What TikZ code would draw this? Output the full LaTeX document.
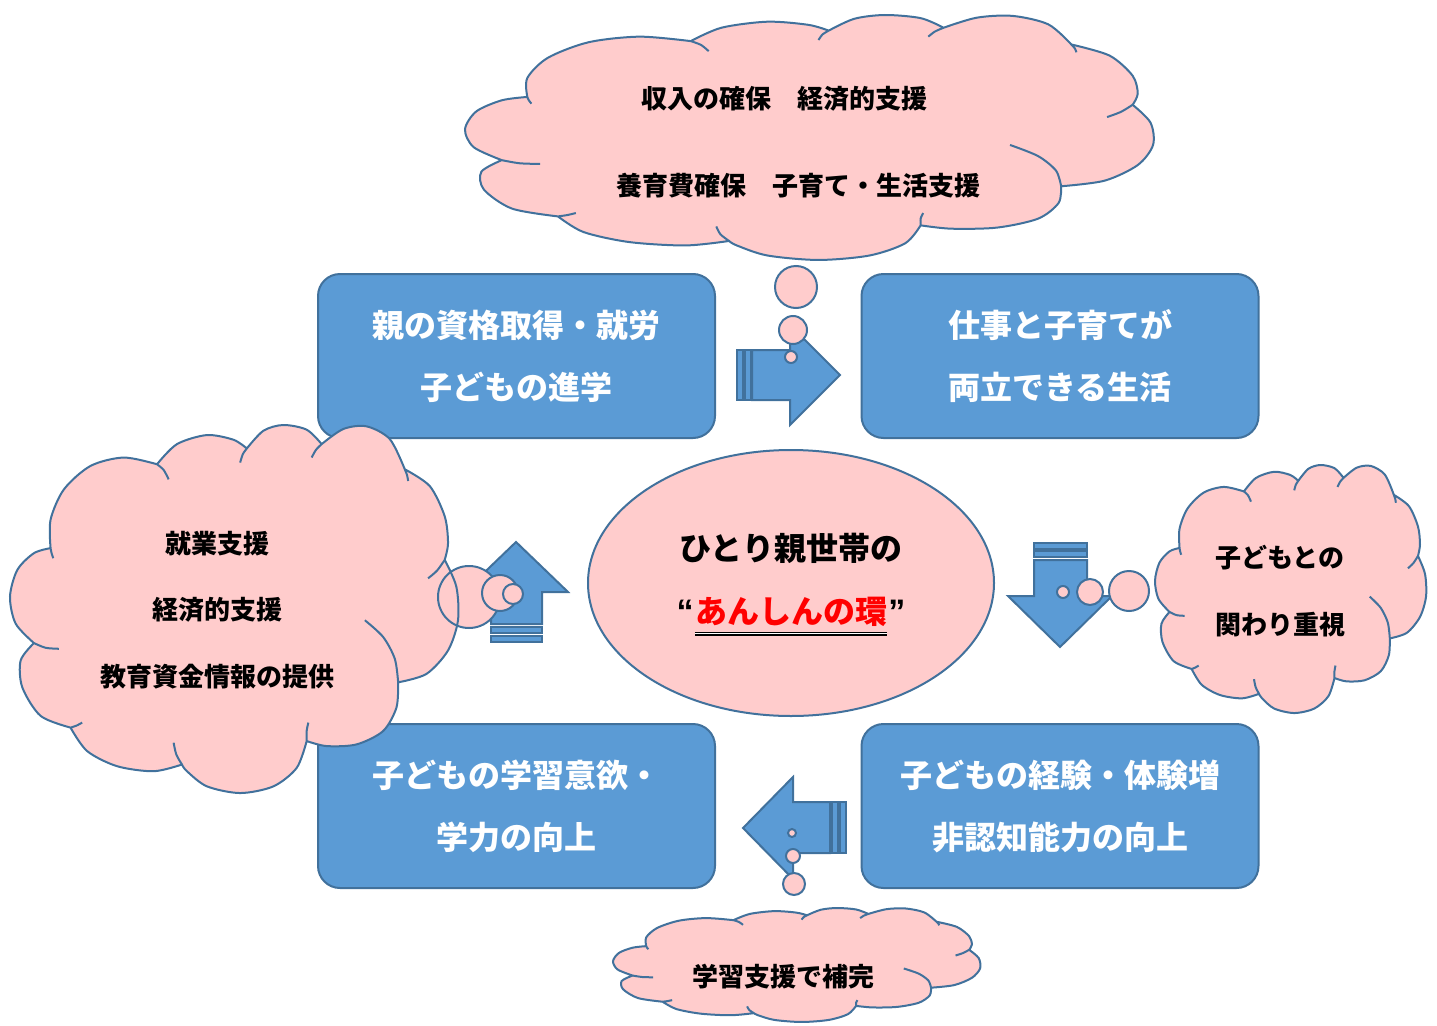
\documentclass[tikz,border=0pt]{standalone}
\usepackage{fontspec}
\setmainfont{Noto Sans CJK JP}
\newfontfamily\latinfont{Liberation Sans}
\usepackage{tikz}
\usetikzlibrary{positioning,shapes.geometric}
\definecolor{boxblue}{HTML}{5B9BD5}
\definecolor{edgeblue}{HTML}{41719C}
\definecolor{cloudpink}{HTML}{FFCCCC}
\definecolor{ringred}{HTML}{FF0000}

% outline of one cloud, traced in a 1347 x 1097 frame
\newcommand{\cloudrim}{%
  plot[smooth] coordinates {(150,385) (150,300) (190,210) (270,140) (370,115) (470,135)}
  -- plot[smooth] coordinates {(470,135) (530,75) (620,48) (700,62) (740,88)}
  -- plot[smooth] coordinates {(740,88) (790,35) (850,18) (920,32) (965,75)}
  -- plot[smooth] coordinates {(965,75) (1030,30) (1100,22) (1170,60) (1215,150)}
  -- plot[smooth] coordinates {(1215,150) (1290,200) (1335,290) (1345,370) (1335,420)}
  -- plot[smooth] coordinates {(1335,420) (1370,500) (1375,600) (1345,690) (1280,760) (1195,785)}
  -- plot[smooth] coordinates {(1195,785) (1190,860) (1150,930) (1070,970) (980,975) (920,960)}
  -- plot[smooth] coordinates {(920,960) (890,1040) (820,1095) (720,1115) (620,1095) (560,1050) (545,1030)}
  -- plot[smooth] coordinates {(545,1030) (460,1050) (350,1035) (260,990) (210,920)}
  -- plot[smooth] coordinates {(210,920) (120,885) (65,800) (60,720) (100,668)}
  -- plot[smooth] coordinates {(100,668) (45,610) (28,530) (50,450) (100,400) (150,385)}
  -- cycle}
% short inner arcs of the puffs
\newcommand{\cloudcreases}{%
  plot[smooth] coordinates {(150,385) (153,400) (158,415)}
  plot[smooth] coordinates {(470,135) (490,152) (505,180)}
  plot[smooth] coordinates {(740,88) (728,105) (720,130)}
  plot[smooth] coordinates {(965,75) (948,92) (935,115)}
  plot[smooth] coordinates {(1215,150) (1222,168) (1225,185)}
  plot[smooth] coordinates {(1335,420) (1312,452) (1285,475)}
  plot[smooth] coordinates {(1095,600) (1150,650) (1185,715) (1195,785)}
  plot[smooth] coordinates {(920,960) (920,930) (925,905)}
  plot[smooth] coordinates {(545,1030) (528,1000) (520,965)}
  plot[smooth] coordinates {(210,920) (228,914) (245,905)}
  plot[smooth] coordinates {(100,668) (135,682) (175,685)}}

\begin{document}
\begin{tikzpicture}[
  x=1pt, y=-1pt,
  stepbox/.style={draw=edgeblue, line width=2pt, fill=boxblue, rounded corners=22pt, minimum width=397pt, minimum height=164pt, align=center, text=white, font=\fontsize{32}{62}\selectfont\bfseries},
  cloudframe/.style n args={4}{shift={(#1,#2)}, x=#3pt, y=-#4pt, shift={(-28,-18)}},
  cloudfill/.style={fill=cloudpink},
  cloudedge/.style={draw=edgeblue, line width=2pt},
  bubble/.style={draw=edgeblue, line width=2pt, fill=cloudpink},
  cloudtext/.style={inner sep=0pt, font=\fontsize{26}{30}\selectfont\bfseries},
  centertext/.style={inner sep=0pt, font=\fontsize{32}{36}\selectfont\bfseries},
  blockarrow/.style={draw=edgeblue, line width=2pt, fill=boxblue},
  stripe/.style={draw=edgeblue, line width=1.5pt, fill=boxblue},
]
\useasboundingbox (0,0) rectangle (1437,1025);

% ========== four stages ==========
\node[stepbox] (qualify) at (516.5,356) {親の資格取得・就労\\子どもの進学};
\node[stepbox] (balance) at (1060,356) {仕事と子育てが\\両立できる生活};
\node[stepbox] (experience) at (1060,806) {子どもの経験・体験増\\非認知能力の向上};
\node[stepbox] (learning) at (516.5,806) {子どもの学習意欲・\\学力の向上};

% ========== centre ==========
\node[ellipse, draw=edgeblue, line width=2pt, fill=cloudpink, minimum width=406pt, minimum height=266pt] (hub) at (791,583) {};
\node[centertext] (hubtitle) at (791,548) {ひとり親世帯の};
\node[centertext, text=ringred] (ring) at (791,612) {あんしんの環};
\node[inner sep=0pt, anchor=base east, font=\fontsize{34}{36}\latinfont\bfseries] (lquote) at ([xshift=-1pt]ring.base west) {“};
\node[inner sep=0pt, anchor=base west, font=\fontsize{34}{36}\latinfont\bfseries] (rquote) at ([xshift=1pt]ring.base east) {”};
\draw[double, double distance=1.6pt, line width=1.2pt] ([yshift=-10pt]ring.base west) -- ([yshift=-10pt]ring.base east);

% ========== arrows ==========
\draw[blockarrow] (752,350) -- (790,350) -- (790,325) -- (840,375) -- (790,425) -- (790,400) -- (752,400) -- cycle;
\draw[stripe] (737,350) rectangle (743,400);
\draw[stripe] (745,350) rectangle (751,400);

\draw[blockarrow] (1034,560) -- (1087,560) -- (1087,596) -- (1112,596) -- (1060,647) -- (1008,596) -- (1034,596) -- cycle;
\draw[stripe] (1034,543) rectangle (1087,549);
\draw[stripe] (1034,551) rectangle (1087,557);

\draw[blockarrow] (830,802) -- (793,802) -- (793,777) -- (743,828) -- (793,879) -- (793,853) -- (830,853) -- cycle;
\draw[stripe] (832,802) rectangle (838,853);
\draw[stripe] (840,802) rectangle (846,853);

\draw[blockarrow] (491,624) -- (491,592) -- (464,592) -- (516,542) -- (568,592) -- (542,592) -- (542,624) -- cycle;
\draw[stripe] (491,627) rectangle (542,633);
\draw[stripe] (491,636) rectangle (542,642);

% ========== clouds ==========
\fill[cloudfill, cloudframe={465}{15}{0.5108}{0.2233}] \cloudrim;
\fill[cloudfill, cloudframe={10}{425}{0.3326}{0.3355}] \cloudrim;
\fill[cloudfill, cloudframe={1155}{465}{0.2012}{0.2261}] \cloudrim;
\fill[cloudfill, cloudframe={613}{908}{0.2725}{0.1039}] \cloudrim;

% thought bubbles
\draw[bubble] (796,287) circle[radius=21pt];
\draw[bubble] (793,330) circle[radius=14pt];
\draw[bubble] (791,357) circle[radius=6pt];
\draw[bubble] (469,597) circle[radius=31pt];
\draw[bubble] (500,593) circle[radius=18pt];
\draw[bubble] (513,594) circle[radius=10pt];
\draw[bubble] (1129,591) circle[radius=20pt];
\draw[bubble] (1090,592) circle[radius=13pt];
\draw[bubble] (1063,592) circle[radius=6pt];
\draw[bubble] (794,884) circle[radius=11pt];
\draw[bubble] (793,856) circle[radius=7pt];
\draw[bubble] (792,833) circle[radius=4pt];

\draw[cloudedge, cloudframe={465}{15}{0.5108}{0.2233}] \cloudrim \cloudcreases;
\draw[cloudedge, cloudframe={10}{425}{0.3326}{0.3355}] \cloudrim \cloudcreases;
\draw[cloudedge, cloudframe={1155}{465}{0.2012}{0.2261}] \cloudrim \cloudcreases;
\draw[cloudedge, cloudframe={613}{908}{0.2725}{0.1039}] \cloudrim \cloudcreases;

% cloud texts
\node[cloudtext] (income1) at (784,99) {収入の確保　経済的支援};
\node[cloudtext] (income2) at (798,186) {養育費確保　子育て・生活支援};
\node[cloudtext] (jobhelp1) at (217,544) {就業支援};
\node[cloudtext] (jobhelp2) at (217,610) {経済的支援};
\node[cloudtext] (jobhelp3) at (217,677) {教育資金情報の提供};
\node[cloudtext] (bond1) at (1280,558) {子どもとの};
\node[cloudtext] (bond2) at (1280,625) {関わり重視};
\node[cloudtext] (study1) at (783,977) {学習支援で補完};

\end{tikzpicture}
\end{document}
